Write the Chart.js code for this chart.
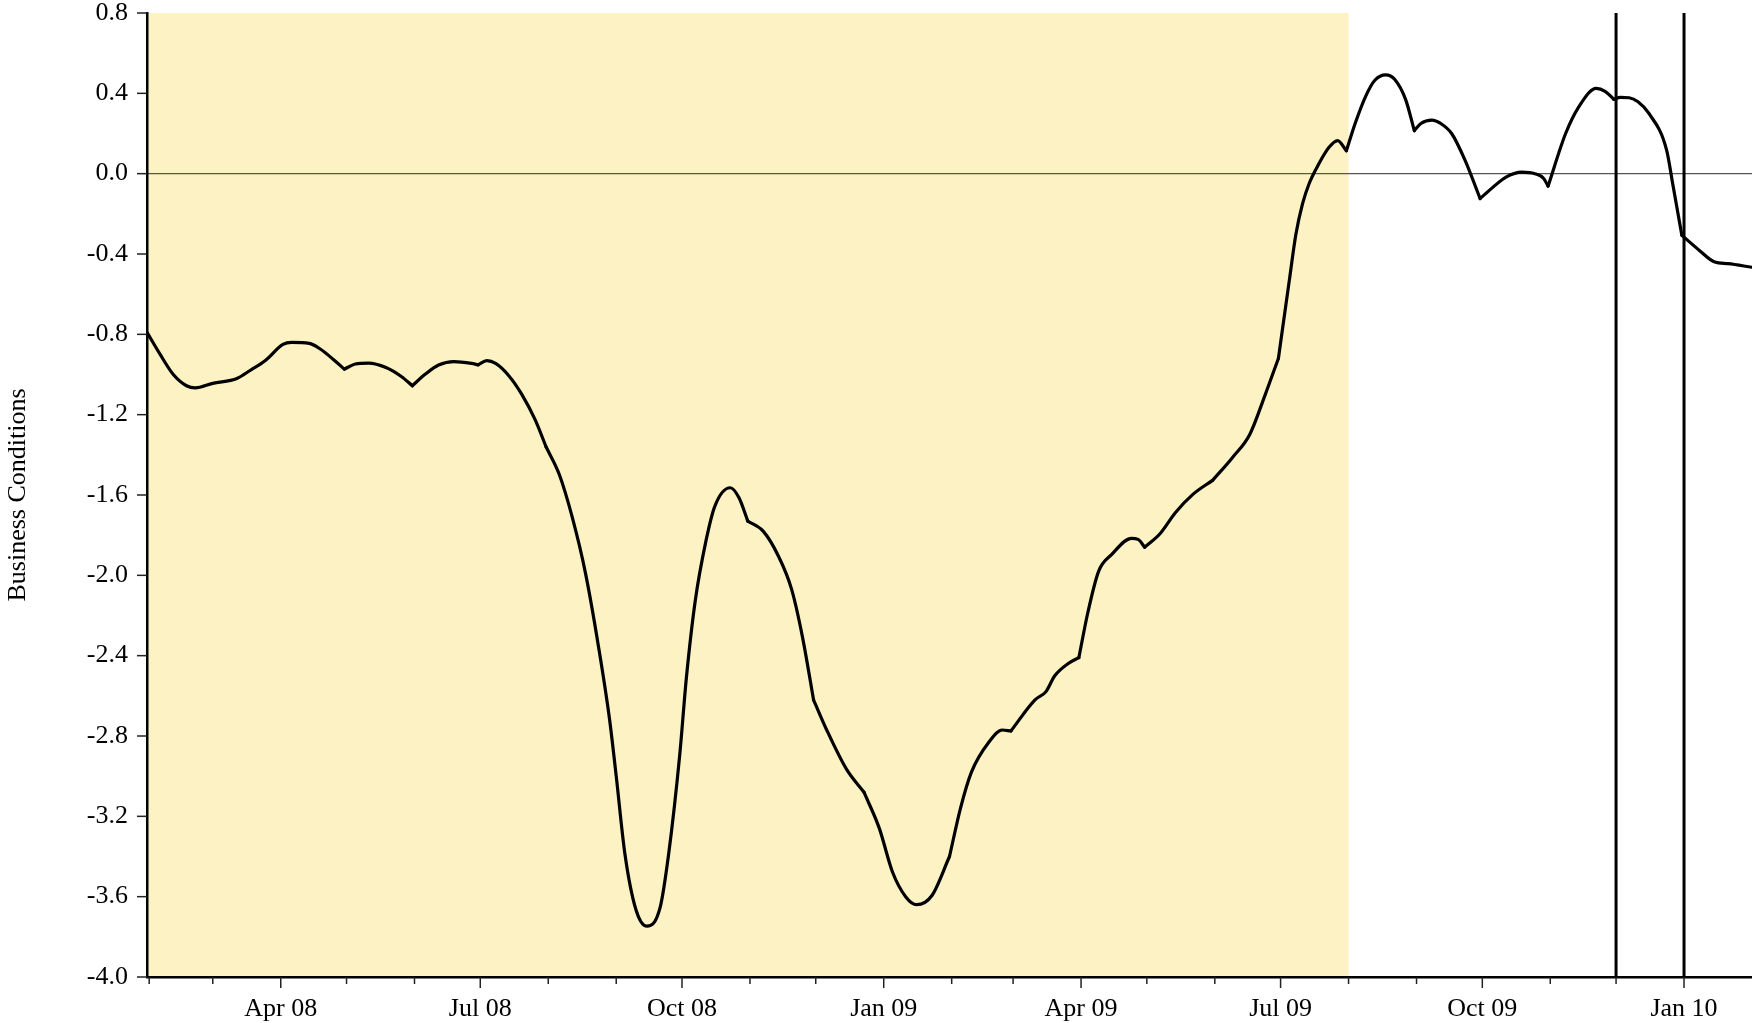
<!DOCTYPE html>
<html>
<head>
<meta charset="utf-8">
<title>Business Conditions</title>
<script src="https://cdn.jsdelivr.net/npm/chart.js@4.4.1/dist/chart.umd.min.js"></script>
<style>
  html, body { margin: 0; padding: 0; background: #fff; }
  #chart { display: block; }
</style>
</head>
<body>
<canvas id="chart" width="1752" height="1023"></canvas>
<script>
const dates = [
  '2008-01-31', '2008-02-06', '2008-02-12', '2008-02-18', '2008-02-22', '2008-03-01', '2008-03-12',
  '2008-03-18', '2008-03-25', '2008-04-02', '2008-04-06', '2008-04-14', '2008-04-19', '2008-04-25',
  '2008-04-30', '2008-05-05', '2008-05-11', '2008-05-19', '2008-05-26', '2008-05-31', '2008-06-06',
  '2008-06-12', '2008-06-19', '2008-06-27', '2008-06-30', '2008-07-04', '2008-07-08', '2008-07-14',
  '2008-07-20', '2008-07-26', '2008-07-31', '2008-08-06', '2008-08-12', '2008-08-18', '2008-08-24',
  '2008-08-29', '2008-09-01', '2008-09-05', '2008-09-10', '2008-09-15', '2008-09-21', '2008-09-25',
  '2008-09-30', '2008-10-03', '2008-10-07', '2008-10-12', '2008-10-16', '2008-10-23', '2008-10-27',
  '2008-10-31', '2008-11-07', '2008-11-14', '2008-11-20', '2008-11-25', '2008-11-30', '2008-12-06',
  '2008-12-15', '2008-12-23', '2008-12-30', '2009-01-05', '2009-01-11', '2009-01-16', '2009-01-23',
  '2009-01-31', '2009-02-05', '2009-02-10', '2009-02-18', '2009-02-24', '2009-02-28', '2009-03-11',
  '2009-03-16', '2009-03-20', '2009-03-26', '2009-03-31', '2009-04-04', '2009-04-09', '2009-04-15',
  '2009-04-24', '2009-04-27', '2009-04-30', '2009-05-07', '2009-05-14', '2009-05-22', '2009-05-31',
  '2009-06-09', '2009-06-17', '2009-06-24', '2009-06-30', '2009-07-05', '2009-07-08', '2009-07-11',
  '2009-07-14', '2009-07-18', '2009-07-23', '2009-07-27', '2009-07-31', '2009-08-04', '2009-08-09',
  '2009-08-13', '2009-08-18', '2009-08-22', '2009-08-27', '2009-08-31', '2009-09-03', '2009-09-08',
  '2009-09-12', '2009-09-17', '2009-09-23', '2009-09-30', '2009-10-06', '2009-10-12', '2009-10-19',
  '2009-10-25', '2009-10-29', '2009-10-31', '2009-11-08', '2009-11-14', '2009-11-22', '2009-11-26',
  '2009-11-30', '2009-12-03', '2009-12-07', '2009-12-11', '2009-12-16', '2009-12-24', '2009-12-27',
  '2009-12-31', '2010-01-08', '2010-01-15', '2010-01-21', '2010-02-01'
];
const values = [
  -0.79, -0.90, -1.00, -1.056, -1.067, -1.044, -1.02,
  -0.98, -0.93, -0.85, -0.84, -0.845, -0.873, -0.925,
  -0.973, -0.948, -0.943, -0.965, -1.01, -1.056, -0.998,
  -0.953, -0.936, -0.945, -0.952, -0.931, -0.945, -1.006,
  -1.10, -1.225, -1.36, -1.497, -1.713, -1.99, -2.36,
  -2.72, -3.00, -3.39, -3.665, -3.747, -3.655, -3.38,
  -2.89, -2.51, -2.13, -1.825, -1.655, -1.564, -1.614,
  -1.73, -1.78, -1.905, -2.07, -2.31, -2.62, -2.77,
  -2.965, -3.08, -3.26, -3.477, -3.60, -3.64, -3.594,
  -3.40, -3.16, -2.98, -2.83, -2.77, -2.775, -2.62,
  -2.579, -2.50, -2.44, -2.41, -2.19, -1.98, -1.896,
  -1.816, -1.821, -1.86, -1.793, -1.688, -1.597, -1.527,
  -1.414, -1.297, -1.10, -0.92, -0.53, -0.30, -0.15,
  -0.05, 0.04, 0.13, 0.165, 0.114, 0.25, 0.39,
  0.465, 0.492, 0.47, 0.37, 0.214, 0.25, 0.267,
  0.25, 0.20, 0.07, -0.124, -0.066, -0.016, 0.008,
  0.0, -0.024, -0.062, 0.20, 0.333, 0.425, 0.41,
  0.37, 0.38, 0.378, 0.358, 0.30, 0.12, -0.06,
  -0.307, -0.382, -0.44, -0.448, -0.466
];
// points where the index has a sharp corner (monthly data releases)
const kinkDates = [
  '2008-04-30', '2008-05-31', '2008-06-30', '2008-07-31', '2008-10-31', '2008-11-30', '2008-12-23',
  '2009-01-31', '2009-02-28', '2009-03-31', '2009-04-30', '2009-05-31', '2009-06-30', '2009-07-31',
  '2009-08-31', '2009-09-30', '2009-10-31', '2009-11-30', '2009-12-31'
];

const yTicks = [-4.0, -3.6, -3.2, -2.8, -2.4, -2.0, -1.6, -1.2, -0.8, -0.4, 0.0, 0.4, 0.8];
const quarterDates = ['2008-04-01', '2008-07-01', '2008-10-01', '2009-01-01', '2009-04-01', '2009-07-01', '2009-10-01', '2010-01-01'];
const quarterLabels = ['Apr 08', 'Jul 08', 'Oct 08', 'Jan 09', 'Apr 09', 'Jul 09', 'Oct 09', 'Jan 10'];

const axisStart = '2008-01-31';
const axisEnd = '2010-02-01';
const shadeEnd = '2009-08-01';
const markerDates = ['2009-12-01', '2010-01-01'];

const shadeColor = 'rgb(252, 242, 196)';
const textColor = '#000';
const fontFamily = "'Liberation Serif', 'DejaVu Serif', serif";

const toTime = d => Date.parse(d + 'T00:00:00Z');

// split at the corners so the smoothing doesn't round them off
const segments = [];
let current = [];
dates.forEach((d, i) => {
  const pt = { x: toTime(d), y: values[i] };
  current.push(pt);
  if (kinkDates.includes(d)) {
    segments.push(current);
    current = [pt];
  }
});
if (current.length > 1) segments.push(current);

const monthTicks = [];
for (let i = 0; i < 24; i++) monthTicks.push(Date.UTC(2008, 1 + i, 1));
const quarterTimes = quarterDates.map(toTime);

const decor = {
  id: 'decor',
  beforeDraw(chart) {
    const { ctx, chartArea: a, scales: { x, y } } = chart;
    ctx.save();
    ctx.fillStyle = shadeColor;
    ctx.fillRect(a.left, a.top, x.getPixelForValue(toTime(shadeEnd)) - a.left, a.bottom - a.top);
    const y0 = y.getPixelForValue(0);
    ctx.strokeStyle = '#555';
    ctx.lineWidth = 1.2;
    ctx.beginPath();
    ctx.moveTo(a.left, y0);
    ctx.lineTo(a.right, y0);
    ctx.stroke();
    ctx.restore();
  },
  afterDraw(chart) {
    const { ctx, chartArea: a, scales: { x, y } } = chart;
    ctx.save();
    ctx.strokeStyle = '#000';
    ctx.lineWidth = 3;
    markerDates.forEach(d => {
      const px = x.getPixelForValue(toTime(d));
      ctx.beginPath();
      ctx.moveTo(px, a.top);
      ctx.lineTo(px, a.bottom);
      ctx.stroke();
    });

    ctx.strokeStyle = '#222';
    ctx.lineWidth = 1.5;
    yTicks.forEach(v => {
      const py = y.getPixelForValue(v);
      ctx.beginPath();
      ctx.moveTo(a.left - 10, py);
      ctx.lineTo(a.left, py);
      ctx.stroke();
    });
    monthTicks.forEach(t => {
      const px = x.getPixelForValue(t);
      const len = quarterTimes.includes(t) ? 11 : 7;
      ctx.beginPath();
      ctx.moveTo(px, a.bottom);
      ctx.lineTo(px, a.bottom + len);
      ctx.stroke();
    });
    ctx.restore();
  }
};

new Chart(document.getElementById('chart'), {
  type: 'line',
  data: {
    datasets: segments.map(seg => ({
      data: seg,
      borderColor: '#000',
      borderWidth: 3.2,
      borderCapStyle: 'round',
      borderJoinStyle: 'round',
      pointRadius: 0,
      fill: false,
      cubicInterpolationMode: 'monotone'
    }))
  },
  options: {
    responsive: false,
    animation: false,
    layout: { padding: 0 },
    plugins: { legend: { display: false }, tooltip: { enabled: false } },
    scales: {
      x: {
        type: 'linear',
        min: toTime(axisStart),
        max: toTime(axisEnd),
        afterBuildTicks: s => { s.ticks = monthTicks.map(v => ({ value: v })); },
        afterFit: s => { s.height = 46; s.paddingLeft = 0; s.paddingRight = 0; },
        grid: { display: false, drawTicks: false },
        border: { display: true, color: '#000', width: 2.5 },
        ticks: {
          autoSkip: false,
          maxRotation: 0,
          padding: 17,
          color: textColor,
          font: { family: fontFamily, size: 26, lineHeight: 1.2 },
          callback: v => {
            const i = quarterTimes.indexOf(v);
            return i >= 0 ? quarterLabels[i] : '';
          }
        }
      },
      y: {
        min: -4.0,
        max: 0.8,
        afterBuildTicks: s => { s.ticks = yTicks.map(v => ({ value: v })); },
        afterFit: s => { s.width = 147; s.paddingTop = 13; s.paddingBottom = 0; },
        grid: { display: false, drawTicks: false },
        border: { display: true, color: '#000', width: 2.5 },
        ticks: {
          padding: 19,
          color: textColor,
          font: { family: fontFamily, size: 26, lineHeight: 1.2 },
          callback: v => v.toFixed(1)
        },
        title: {
          display: true,
          text: 'Business Conditions',
          color: textColor,
          padding: { top: 3, bottom: 0 },
          font: { family: fontFamily, size: 26, lineHeight: 1.2 }
        }
      }
    }
  },
  plugins: [decor]
});
</script>
</body>
</html>
